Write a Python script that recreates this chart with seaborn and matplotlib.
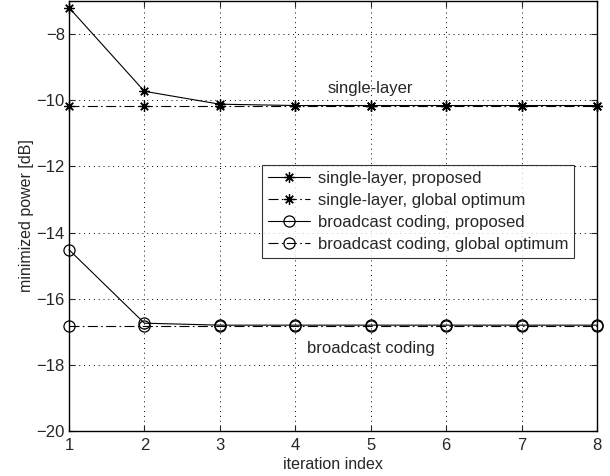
import matplotlib
matplotlib.use("Agg")
import matplotlib.pyplot as plt
import seaborn as sns
import pandas as pd
import numpy as np

iterations = [1, 2, 3, 4, 5, 6, 7, 8]
single_proposed = [-7.2, -9.73, -10.12, -10.16, -10.16, -10.16, -10.16, -10.16]
single_optimum = [-10.17] * 8
broadcast_proposed = [-14.52, -16.74, -16.8, -16.8, -16.8, -16.8, -16.8, -16.8]
broadcast_optimum = [-16.82] * 8
yticks = [-20, -18, -16, -14, -12, -10, -8]

sns.set_theme(style="ticks")
plt.rcParams['font.family'] = ['Liberation Sans', 'DejaVu Sans']

fig = plt.figure(figsize=(6.1, 4.76), dpi=100)
ax = fig.add_axes([69/610, 1 - 431/476, (597-69)/610, (431-1)/476])

dashdot = (0, (9, 3, 1.5, 3))
series = [
    ("single-layer, proposed", single_proposed, (8, 2, 0), "-"),
    ("single-layer, global optimum", single_optimum, (8, 2, 0), dashdot),
    ("broadcast coding, proposed", broadcast_proposed, "o", "-"),
    ("broadcast coding, global optimum", broadcast_optimum, "o", dashdot),
]
for name, vals, mk, ls in series:
    df = pd.DataFrame({"x": iterations, "y": vals})
    sns.lineplot(data=df, x="x", y="y", ax=ax, color="black", marker=mk,
                 markersize=7.5 if mk != "o" else 8,
                 markerfacecolor="none",
                 markeredgecolor="black", markeredgewidth=0.9, linewidth=0.8,
                 linestyle=ls, label=name, clip_on=False)

ax.set_xlim(1, 8)
ax.set_ylim(-20, -7)
ax.set_xticks(iterations)
ax.set_yticks(yticks)
ax.set_xticklabels([str(v) for v in iterations])
ax.set_yticklabels([f"\u2212{abs(v)}" for v in yticks])
ax.grid(True, linestyle=(0, (1, 4)), color="black", linewidth=0.7)
ax.tick_params(direction="in", top=True, right=True, labelsize=12, length=4, width=0.8, pad=3)
ax.tick_params(axis="x", pad=5)
for s in ax.spines.values():
    s.set_linewidth(1.0)
    s.set_color("black")
ax.set_xlabel("iteration index", fontsize=11.5, labelpad=3)
ax.set_ylabel("minimized power [dB]", fontsize=11.5, labelpad=2)

ax.text(5, -9.65, "single-layer", ha="center", va="center", fontsize=12)
ax.text(5, -17.52, "broadcast coding", ha="center", va="center", fontsize=12)

leg = ax.legend(loc="upper left", bbox_to_anchor=((262-69)/528, (431-165)/430),
                fontsize=12, frameon=True, fancybox=False, edgecolor="black",
                handlelength=2.5, borderaxespad=0, labelspacing=0.42, borderpad=0.35,
                handletextpad=0.5)
leg.get_frame().set_linewidth(0.8)

fig.savefig("out.png", dpi=100)
